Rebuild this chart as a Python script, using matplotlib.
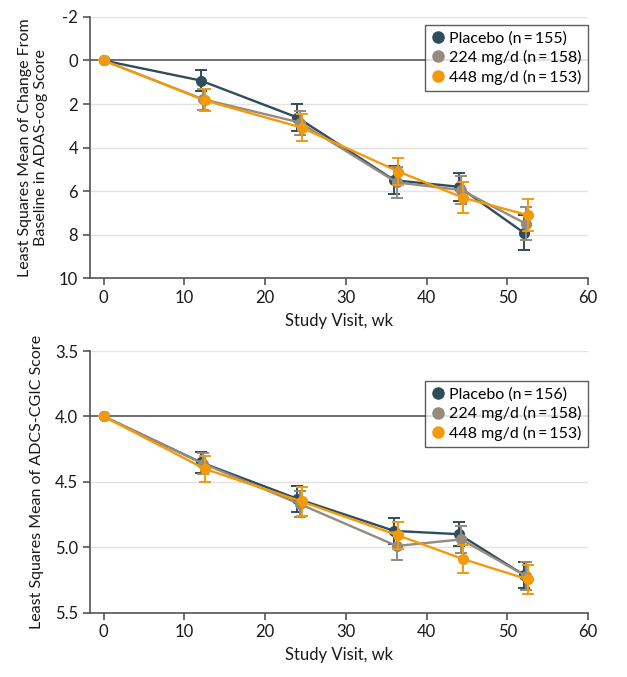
import matplotlib
matplotlib.use('Agg')
import matplotlib.pyplot as plt
import numpy as np

plt.rcParams['font.family'] = ['Lato', 'DejaVu Sans']

# Top panel: ADAS-cog change from baseline
weeks = [0, 12, 24, 36, 44, 52]
adas_placebo = [0, 0.92, 2.62, 5.5, 5.8, 7.9]
adas_placebo_err = [0, 0.5, 0.6, 0.65, 0.65, 0.8]
adas_224 = [0, 1.78, 2.85, 5.6, 5.95, 7.5]
adas_224_err = [0, 0.48, 0.55, 0.7, 0.65, 0.75]
adas_448 = [0, 1.83, 3.08, 5.1, 6.3, 7.1]
adas_448_err = [0, 0.5, 0.6, 0.6, 0.7, 0.75]
adas_labels = ['Placebo (n\u2009=\u2009155)', '224 mg/d (n\u2009=\u2009158)', '448 mg/d (n\u2009=\u2009153)']

# Bottom panel: ADCS-CGIC score
cgic_placebo = [4.0, 4.35, 4.63, 4.875, 4.90, 5.21]
cgic_placebo_err = [0, 0.08, 0.1, 0.1, 0.09, 0.1]
cgic_224 = [4.0, 4.36, 4.67, 4.99, 4.94, 5.22]
cgic_224_err = [0, 0.08, 0.1, 0.11, 0.1, 0.11]
cgic_448 = [4.0, 4.40, 4.65, 4.91, 5.09, 5.245]
cgic_448_err = [0, 0.1, 0.11, 0.1, 0.11, 0.11]
cgic_labels = ['Placebo (n\u2009=\u2009156)', '224 mg/d (n\u2009=\u2009158)', '448 mg/d (n\u2009=\u2009153)']

colors = ['#2f4d5b', '#958b7e', '#f39a0c']
x_offsets = [0.0, 0.3, 0.5]


def draw_panel(ax, series, errors, labels, ylim, yticks, yticklabels, ylabel, baseline):
    for t in yticks:
        if t != baseline:
            ax.plot([-1.7, 60], [t, t], color='#e3e3e3', lw=1.0, zorder=0)
    ax.axhline(baseline, color='#555555', lw=1.2, zorder=1)
    for i, (vals, errs) in enumerate(zip(series, errors)):
        xs = np.array(weeks, dtype=float) + np.where(np.array(weeks) > 0, x_offsets[i], 0)
        ax.errorbar(xs, vals, yerr=errs, color=colors[i], ecolor=colors[i], lw=1.7,
                    elinewidth=1.4, capsize=4.5, capthick=1.4, marker='o', ms=7,
                    label=labels[i], zorder=3 + i)
    ax.set_xlim(-1.7, 60)
    ax.set_ylim(*ylim)
    ax.set_xticks([0, 10, 20, 30, 40, 50, 60])
    ax.set_yticks(yticks)
    ax.set_yticklabels(yticklabels)
    ax.spines['top'].set_visible(False)
    ax.spines['right'].set_visible(False)
    for s in ['left', 'bottom']:
        ax.spines[s].set_color('#555555')
        ax.spines[s].set_linewidth(1.2)
    ax.tick_params(axis='both', colors='#555555', labelcolor='#1a1a1a', labelsize=12,
                   length=5, width=1.2)
    ax.set_xlabel('Study Visit, wk', fontsize=12, color='#1a1a1a', labelpad=5)
    ax.set_ylabel(ylabel, fontsize=11.5, color='#1a1a1a', labelpad=8)
    handles = [plt.Line2D([], [], ls='none', marker='o', ms=8, color=c) for c in colors]
    leg = ax.legend(handles, labels, loc='upper right', bbox_to_anchor=(1.0, 0.97),
                    fontsize=11.5, frameon=True, fancybox=False, handletextpad=0.3,
                    handlelength=0.8, borderpad=0.4, labelspacing=0.28, borderaxespad=0.0)
    leg.get_frame().set_edgecolor('#333333')
    leg.get_frame().set_linewidth(1.0)
    leg.set_zorder(10)


fig = plt.figure(figsize=(6.27, 6.77), dpi=100)
ax1 = fig.add_axes([0.1435, 0.589, 0.7945, 0.386])
ax2 = fig.add_axes([0.1435, 0.095, 0.7945, 0.3865])

draw_panel(ax1, [adas_placebo, adas_224, adas_448], [adas_placebo_err, adas_224_err, adas_448_err],
           adas_labels, (10, -2), [-2, 0, 2, 4, 6, 8, 10], ['-2', '0', '2', '4', '6', '8', '10'],
           'Least Squares Mean of Change From\nBaseline in ADAS-cog Score', 0)
draw_panel(ax2, [cgic_placebo, cgic_224, cgic_448], [cgic_placebo_err, cgic_224_err, cgic_448_err],
           cgic_labels, (5.5, 3.5), [3.5, 4.0, 4.5, 5.0, 5.5], ['3.5', '4.0', '4.5', '5.0', '5.5'],
           'Least Squares Mean of ADCS-CGIC Score', 4.0)

ax2.get_legend().set_bbox_to_anchor((1.0, 0.885))

fig.savefig('out.png', dpi=100)
